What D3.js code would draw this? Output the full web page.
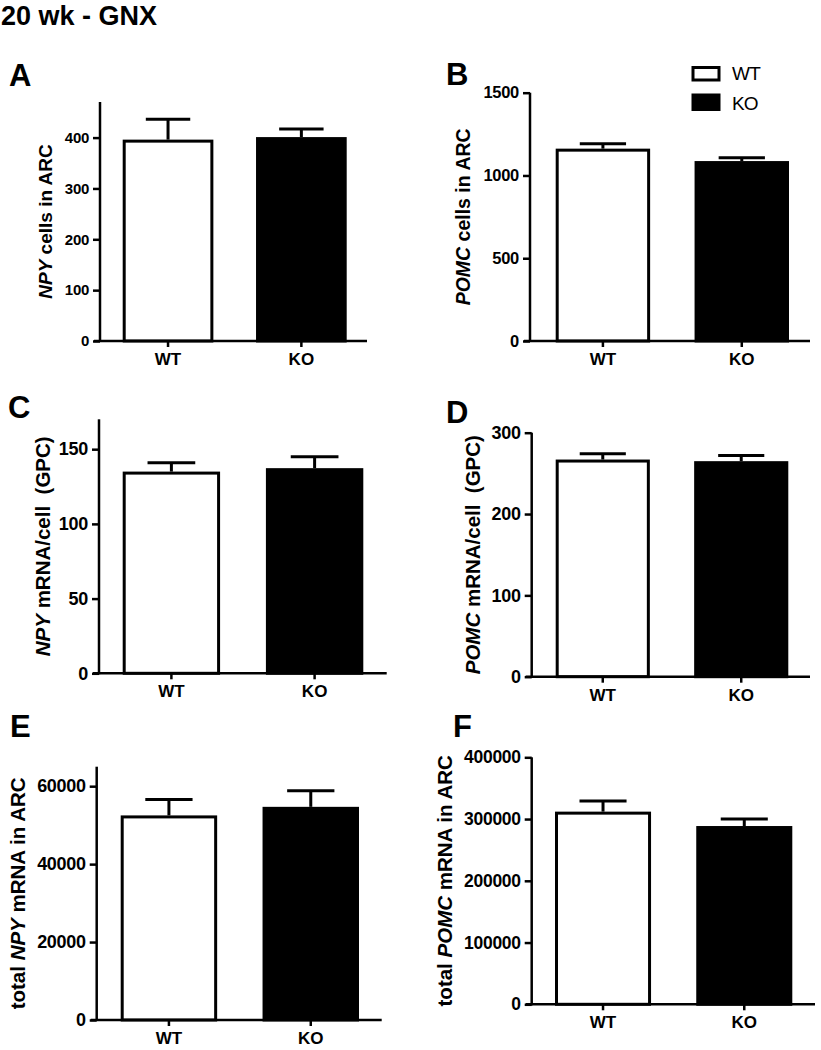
<!DOCTYPE html>
<html><head><meta charset="utf-8">
<script src="https://cdn.jsdelivr.net/npm/d3@7"></script>
<style>
body{margin:0;background:#fff}
text{font-family:"Liberation Sans",Arial,sans-serif;fill:#000}
</style>
</head><body>
<svg id="c" width="821" height="1050"></svg>
<script>
// ---- data ----
const categories = ["WT", "KO"];
const npyCellsMean = [396, 401];
const npyCellsSem = [40, 16];
const pomcCellsMean = [1162, 1087];
const pomcCellsSem = [30, 20];
const npyPerCellMean = [135, 137.3];
const npyPerCellSem = [6, 7.7];
const pomcPerCellMean = [267, 265];
const pomcPerCellSem = [7, 7];
const totalNpyMean = [52500, 54700];
const totalNpySem = [4100, 4100];
const totalPomcMean = [312000, 288700];
const totalPomcSem = [17300, 11300];
const ticksA = [0, 100, 200, 300, 400];
const ticksB = [0, 500, 1000, 1500];
const ticksC = [0, 50, 100, 150];
const ticksD = [0, 100, 200, 300];
const ticksE = [0, 20000, 40000, 60000];
const ticksF = [0, 100000, 200000, 300000, 400000];

// ---- layout ----
const panels = [
  {letter:"A", mean:npyCellsMean, sem:npyCellsSem, ticks:ticksA, max:470, tfs:15,
   title:[["NPY",true],[" cells in ARC",false]], tfont:19,
   axisX:100, axisR:367, barL:122.7, barR:346.7, y0:341, yTop:102, titleX:45, lx:9, ly:86},
  {letter:"B", mean:pomcCellsMean, sem:pomcCellsSem, ticks:ticksB, max:1500, tfs:16.5,
   title:[["POMC",true],[" cells in ARC",false]], tfont:19.5,
   axisX:530, axisR:810, barL:555.7, barR:789, y0:341, yTop:92.7, titleX:463, lx:446, ly:85},
  {letter:"C", mean:npyPerCellMean, sem:npyPerCellSem, ticks:ticksC, max:170, tfs:18,
   title:[["NPY",true],[" mRNA/cell  (GPC)",false]], tfont:20.5,
   axisX:99, axisR:386.7, barL:122.7, barR:363.3, y0:673.3, yTop:419.3, titleX:43, lx:8, ly:418},
  {letter:"D", mean:pomcPerCellMean, sem:pomcPerCellSem, ticks:ticksD, max:300, tfs:18,
   title:[["POMC",true],[" mRNA/cell  (GPC)",false]], tfont:20.5,
   axisX:531.7, axisR:810, barL:555.7, barR:788.3, y0:676.7, yTop:432.7, titleX:473, lx:446, ly:423},
  {letter:"E", mean:totalNpyMean, sem:totalNpySem, ticks:ticksE, max:65000, tfs:18,
   title:[["total ",false],["NPY",true],[" mRNA in ARC",false]], tfont:20.5,
   axisX:96.7, axisR:381.7, barL:120.7, barR:359, y0:1020, yTop:766.7, titleX:18, lx:10, ly:737},
  {letter:"F", mean:totalPomcMean, sem:totalPomcSem, ticks:ticksF, max:400000, tfs:17.5,
   title:[["total ",false],["POMC",true],[" mRNA in ARC",false]], tfont:20.5,
   axisX:531.7, axisR:815, barL:555, barR:792.3, y0:1004.3, yTop:757.3, titleX:445, lx:453, ly:737}
];

const svg = d3.select("#c");

svg.append("text").attr("x", 1).attr("y", 25)
  .style("font-size", "27px").style("font-weight", "bold")
  .text("20 wk - GNX");

panels.forEach(p => {
  const g = svg.append("g");
  const y = d3.scaleLinear().domain([0, p.max]).range([p.y0, p.yTop]);
  const x = d3.scaleBand().domain(categories).range([p.barL, p.barR])
    .paddingInner(0.32).paddingOuter(0);
  const bw = x.bandwidth();
  const rows = categories.map((c, i) => ({c, v: p.mean[i], e: p.sem[i], i}));

  // bars
  g.selectAll("rect.bar").data(rows).enter().append("rect")
    .attr("class", "bar")
    .attr("x", d => x(d.c) + 1.5)
    .attr("width", bw - 3)
    .attr("y", d => y(d.v) + 1.5)
    .attr("height", d => p.y0 - y(d.v) - 1.5)
    .attr("fill", d => d.i === 0 ? "#fff" : "#000")
    .attr("stroke", "#000").attr("stroke-width", 3);

  // error bars (upper)
  g.selectAll("line.err").data(rows).enter().append("line")
    .attr("x1", d => x(d.c) + bw / 2).attr("x2", d => x(d.c) + bw / 2)
    .attr("y1", d => y(d.v)).attr("y2", d => y(d.v + d.e))
    .attr("stroke", "#000").attr("stroke-width", 3);
  g.selectAll("line.cap").data(rows).enter().append("line")
    .attr("x1", d => x(d.c) + bw / 2 - bw * 0.245)
    .attr("x2", d => x(d.c) + bw / 2 + bw * 0.245)
    .attr("y1", d => y(d.v + d.e)).attr("y2", d => y(d.v + d.e))
    .attr("stroke", "#000").attr("stroke-width", 3);

  // x axis line
  g.append("line").attr("x1", p.axisX - 6).attr("x2", p.axisR)
    .attr("y1", p.y0).attr("y2", p.y0)
    .attr("stroke", "#000").attr("stroke-width", 2.5);
  const xa = g.append("g").attr("transform", `translate(0,${p.y0})`)
    .call(d3.axisBottom(x).tickSize(6).tickSizeOuter(0).tickPadding(6));
  xa.select(".domain").remove();
  xa.selectAll(".tick line").attr("stroke-width", 2.5);
  xa.selectAll(".tick text").style("font-size", "17px").style("font-weight", "bold")
    .style("font-family", "'Liberation Sans',Arial,sans-serif");

  // y axis
  const ya = g.append("g").attr("transform", `translate(${p.axisX},0)`)
    .call(d3.axisLeft(y).tickValues(p.ticks).tickSize(7).tickSizeOuter(0)
      .tickPadding(4).tickFormat(d3.format("d")));
  ya.select(".domain").attr("stroke-width", 2.5)
    .attr("d", `M0,${p.y0 + 1}V${p.yTop}`);
  ya.selectAll(".tick line").attr("stroke-width", 2.5);
  ya.selectAll(".tick text").style("font-size", p.tfs + "px").style("font-weight", "bold")
    .style("letter-spacing", "-0.3px")
    .style("font-family", "'Liberation Sans',Arial,sans-serif");

  // y title
  const t = g.append("text")
    .attr("transform", `translate(${p.titleX},${(p.y0 + p.yTop) / 2}) rotate(-90)`)
    .attr("text-anchor", "middle").attr("dy", "0.35em")
    .style("font-size", p.tfont + "px").style("font-weight", "bold")
    .style("white-space", "pre");
  p.title.forEach(([s, it]) => {
    t.append("tspan").text(s).style("font-style", it ? "italic" : "normal");
  });

  // panel letter
  g.append("text").attr("x", p.lx).attr("y", p.ly)
    .style("font-size", "31px").style("font-weight", "bold").text(p.letter);

  // legend (panel B)
  if (p.letter === "B") {
    const lg = svg.append("g");
    const items = categories.map((c, i) => ({c, i}));
    lg.selectAll("rect").data(items).enter().append("rect")
      .attr("x", 693).attr("width", 26)
      .attr("y", d => d.i === 0 ? 67.5 : 95).attr("height", d => d.i === 0 ? 12.5 : 14.5)
      .attr("fill", d => d.i === 0 ? "#fff" : "#000")
      .attr("stroke", "#000").attr("stroke-width", 3);
    lg.selectAll("text").data(items).enter().append("text")
      .attr("x", 732).attr("y", d => d.i === 0 ? 80 : 110)
      .style("font-size", "19px").style("letter-spacing", "-0.8px")
      .text(d => d.c);
  }
});
</script>
</body></html>
